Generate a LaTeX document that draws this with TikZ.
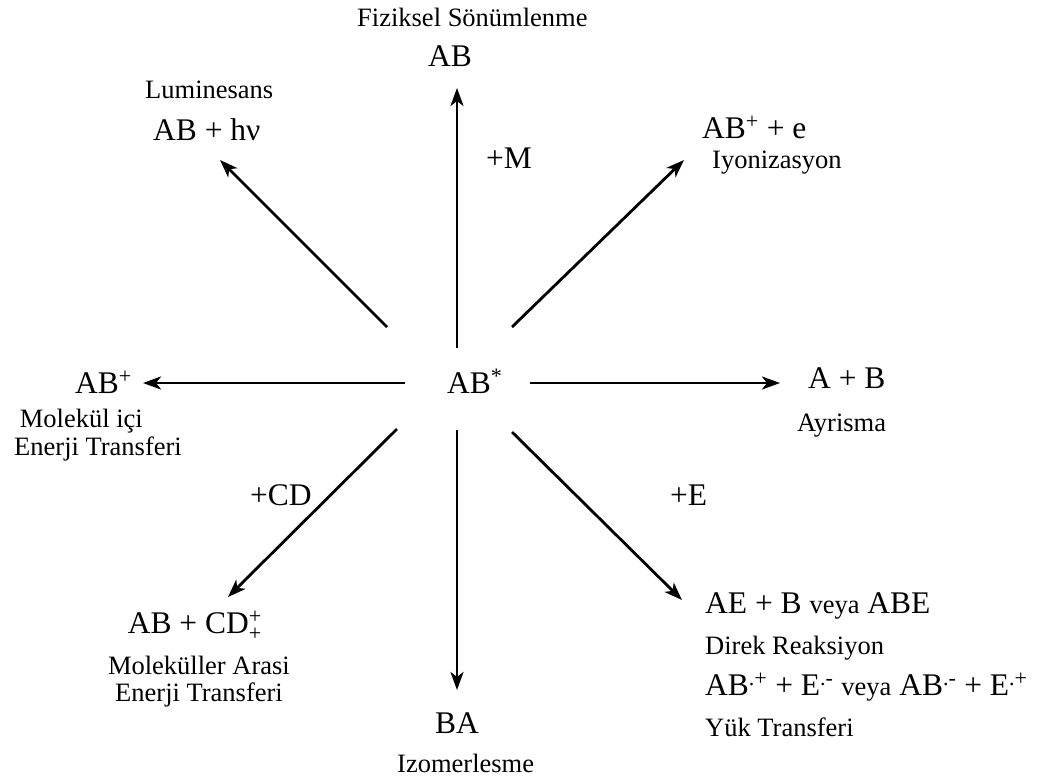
\documentclass[tikz,border=0pt]{standalone}
\usepackage{fontspec}
\usepackage{amsmath}
\setmainfont{Liberation Serif}
\usetikzlibrary{arrows.meta}
\newcommand\bigtxt{\fontsize{31.5}{36}\selectfont}
\newcommand\smalltxt{\fontsize{26.5}{30}\selectfont}
\begin{document}
\begin{tikzpicture}[x=1pt,y=-1pt,
  species/.style={inner sep=0pt,font=\bigtxt},
  caption/.style={inner sep=0pt,font=\smalltxt},
  path/.style={line width=2.8pt,-{Stealth[length=18pt,width=13pt,inset=5pt]}}]
\useasboundingbox (0,0) rectangle (1042,782);
% centre species
\node[species,anchor=base west] (c) at (447,393) {AB\textsuperscript{*}};
% up: physical quenching
\node[caption,anchor=base west] (fizlab) at (357,26) {Fiziksel Sönümlenme};
\node[species,anchor=base] (up) at (450,66) {AB};
\coordinate (upS) at (457,348);
\coordinate (upE) at (457,88);
\draw[path] (upS) -- (upE);
\node[species,anchor=base west] (plusM) at (486,168) {+M};
% upper left: luminescence
\node[caption,anchor=base west] (lumlab) at (145,98) {Luminesans};
\node[species,anchor=base west] (lum) at (153,140) {AB + hν};
\coordinate (nwS) at (387,327);
\coordinate (nwE) at (220,160);
\draw[path] (nwS) -- (nwE);
% upper right: ionisation
\node[species,anchor=base west] (ion) at (702,138) {AB\textsuperscript{+} + e};
\node[caption,anchor=base west] (ionlab) at (712,168) {Iyonizasyon};
\coordinate (neS) at (512,327);
\coordinate (neE) at (684,160);
\draw[path] (neS) -- (neE);
% left: intramolecular energy transfer
\node[species,anchor=base east] (intra) at (132,393) {AB\textsuperscript{+}};
\node[caption,anchor=base east] (intralab1) at (143,427) {Molekül içi};
\node[caption,anchor=base east] (intralab2) at (182,455) {Enerji Transferi};
\coordinate (wS) at (405,383);
\coordinate (wE) at (143,383);
\draw[path] (wS) -- (wE);
% right: dissociation
\node[species,anchor=base west] (diss) at (808,388) {A + B};
\node[caption,anchor=base west] (disslab) at (797,431) {Ayrisma};
\coordinate (eS) at (530,383);
\coordinate (eE) at (780,383);
\draw[path] (eS) -- (eE);
% lower left: intermolecular energy transfer
\node[species,anchor=base east] (inter) at (262,633) {AB + CD$^{\text{+}}_{\text{+}}$};
\node[caption,anchor=base east] (interlab1) at (290,674) {Moleküller Arasi};
\node[caption,anchor=base east] (interlab2) at (283,701) {Enerji Transferi};
\node[species,anchor=base west] (plusCD) at (250,505) {+CD};
\coordinate (swS) at (397,429);
\coordinate (swE) at (228,597);
\draw[path] (swS) -- (swE);
% down: isomerisation
\node[species,anchor=base west] (iso) at (435,733) {BA};
\node[caption,anchor=base west] (isolab) at (397,772) {Izomerlesme};
\coordinate (dS) at (457,430);
\coordinate (dE) at (457,690);
\draw[path] (dS) -- (dE);
% lower right: direct reaction and charge transfer
\node[species,anchor=base west] (plusE) at (670,505) {+E};
\node[species,anchor=base west] (react) at (705,613) {AE + B {\smalltxt veya} ABE};
\node[caption,anchor=base west] (reactlab) at (705,654) {Direk Reaksiyon};
\node[species,anchor=base west] (ct) at (705,695) {AB\textsuperscript{.+} + E\textsuperscript{.-} {\smalltxt veya} AB\textsuperscript{.-} + E\textsuperscript{.+}};
\node[caption,anchor=base west] (ctlab) at (705,736) {Yük Transferi};
\coordinate (seS) at (512,432);
\coordinate (seE) at (682,600);
\draw[path] (seS) -- (seE);
\end{tikzpicture}
\end{document}
